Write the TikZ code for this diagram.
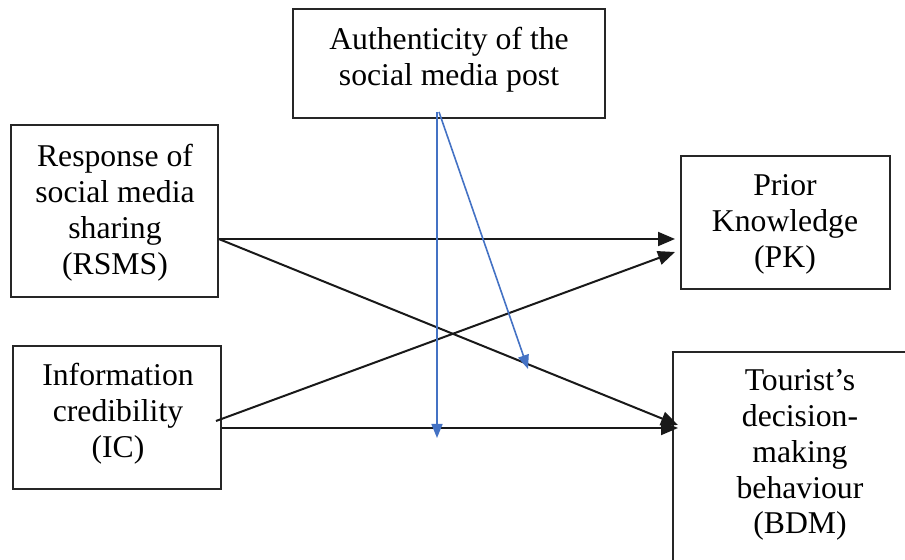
\documentclass[tikz,border=0pt]{standalone}
\usepackage{fontspec}
\setmainfont{Liberation Serif}
\usetikzlibrary{arrows.meta,fit}
\definecolor{arrblue}{RGB}{68,114,196}
\begin{document}
\begin{tikzpicture}[x=0.5pt,y=-0.5pt,
  box/.style={draw=black!85, line width=0.8pt, inner sep=0pt},
  lbl/.style={align=center, inner sep=0pt, font=\fontsize{15.85}{17.95}\selectfont},
  blk/.style={draw=black!90, line width=1pt, -{Triangle[length=8.5pt,width=7pt]}},
  blu/.style={draw=arrblue, line width=0.8pt, -{Triangle[length=7pt,width=5.5pt]}}]
\useasboundingbox (0,0) rectangle (905,560);
\clip (0,0) rectangle (905,560);
% boxes
\node[box, fit={(293,9) (605,118)}] (auth) {};
\node[box, fit={(11,125) (218,297)}] (rsms) {};
\node[box, fit={(13,346) (221,489)}] (ic) {};
\node[box, fit={(681,156) (890,289)}] (pk) {};
\node[box, fit={(673,352) (940,600)}] (bdm) {};
% labels
\node[lbl] (tauth) at (449,60) {Authenticity of the\\social media post};
\node[lbl] (trsms) at (115,213) {Response of\\social media\\sharing\\(RSMS)};
\node[lbl] (tic) at (118,414) {Information\\credibility\\(IC)};
\node[lbl] (tpk) at (785,224) {Prior\\Knowledge\\(PK)};
\node[lbl] (tbdm) at (800,455) {Tourist’s\\decision-\\making\\behaviour\\(BDM)};
% anchor points
\coordinate (r1) at (rsms.east |- 0,239);
\coordinate (p1) at (675,239);
\coordinate (b1) at (678,425);
\coordinate (i1) at (216,421);
\coordinate (p2) at (675,252);
\coordinate (i2) at (ic.east |- 0,428);
\coordinate (b2) at (678,428);
\coordinate (a1) at (437,112);
\coordinate (a2) at (437,438);
\coordinate (a3) at (439,112);
\coordinate (a4) at (528,369);
% connectors
\draw[blk] (r1) -- (p1);
\draw[blk] (r1) -- (b1);
\draw[blk] (i1) -- (p2);
\draw[blk] (i2) -- (b2);
\draw[blu] (a1) -- (a2);
\draw[blu] (a3) -- (a4);
\end{tikzpicture}
\end{document}
